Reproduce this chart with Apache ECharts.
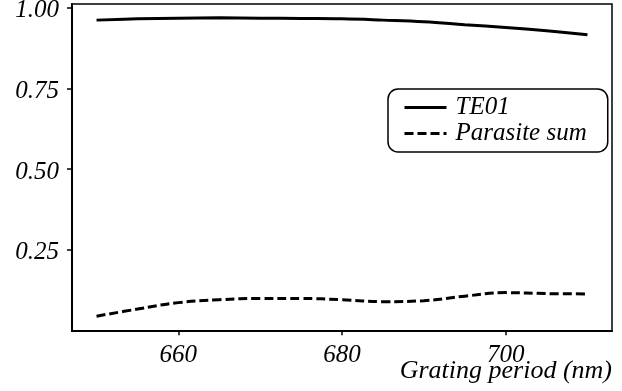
<!DOCTYPE html>
<html>
<head>
<meta charset="utf-8">
<script src="https://cdn.jsdelivr.net/npm/echarts@6/dist/echarts.min.js"></script>
<style>html,body{margin:0;padding:0;background:#fff;}#c{width:622px;height:391px;}</style>
</head>
<body>
<div id="c"></div>
<script>
const periods = [650, 655, 660, 665, 670, 675, 680, 685, 690, 695, 700, 705, 710];
const te01 = [0.962, 0.966, 0.968, 0.969, 0.968, 0.967, 0.966, 0.962, 0.957, 0.948, 0.939, 0.929, 0.917];
const parasiteSum = [0.044, 0.066, 0.086, 0.095, 0.099, 0.099, 0.095, 0.089, 0.092, 0.106, 0.117, 0.114, 0.113];
const xTicks = [660, 680, 700];
const yTicks = [0.25, 0.50, 0.75, 1.00];
const seriesNames = ['TE01', 'Parasite sum'];
const xTitle = 'Grating period (nm)';

const font = 'Liberation Serif, Times New Roman, serif';
const chart = echarts.init(document.getElementById('c'), null, {renderer: 'canvas'});
chart.setOption({
  animation: false,
  backgroundColor: '#fff',
  title: {
    text: xTitle, right: 10, top: 358, padding: 0,
    textStyle: {fontFamily: font, fontStyle: 'italic', fontWeight: 'normal', fontSize: 26, color: '#000'}
  },
  grid: {left: 72, right: 10, top: 4, bottom: 60, show: true, borderColor: '#000', borderWidth: 1.5, containLabel: false, outerBoundsMode: 'none'},
  xAxis: {
    type: 'value', min: 647, max: 713,
    splitLine: {show: false},
    axisLine: {show: true, lineStyle: {color: '#000', width: 2}},
    axisTick: {show: true, length: 5, lineStyle: {color: '#000', width: 1.5}, customValues: xTicks},
    axisLabel: {customValues: xTicks, margin: 12, fontFamily: font, fontStyle: 'italic', fontSize: 25, color: '#000'}
  },
  yAxis: {
    type: 'value', min: -0.002, max: 1.012,
    splitLine: {show: false},
    axisLine: {show: true, lineStyle: {color: '#000', width: 2}},
    axisTick: {show: true, length: 5, lineStyle: {color: '#000', width: 1.5}, customValues: yTicks},
    axisLabel: {customValues: yTicks, margin: 13, fontFamily: font, fontStyle: 'italic', fontSize: 25, color: '#000', verticalAlign: 'top', lineHeight: 6, formatter: v => v.toFixed(2)}
  },
  legend: {
    orient: 'vertical', left: 388, top: 89,
    padding: [6, 21, 6, 15],
    itemWidth: 42, itemHeight: 14, itemGap: 1,
    borderColor: '#000', borderWidth: 1.5, borderRadius: 10,
    itemStyle: {opacity: 0},
    lineStyle: {width: 3},
    textStyle: {fontFamily: font, fontStyle: 'italic', fontSize: 25, color: '#000', padding: [0, 0, 0, 4]},
    data: seriesNames
  },
  series: [
    {name: seriesNames[0], type: 'line', data: periods.map((p, i) => [p, te01[i]]), smooth: 0.4, symbol: 'none',
     lineStyle: {color: '#000', width: 3, type: 'solid'}, itemStyle: {color: '#000'}},
    {name: seriesNames[1], type: 'line', data: periods.map((p, i) => [p, parasiteSum[i]]), smooth: 0.4, symbol: 'none',
     lineStyle: {color: '#000', width: 3, type: [9, 4]}, itemStyle: {color: '#000'}}
  ]
});
</script>
</body>
</html>
